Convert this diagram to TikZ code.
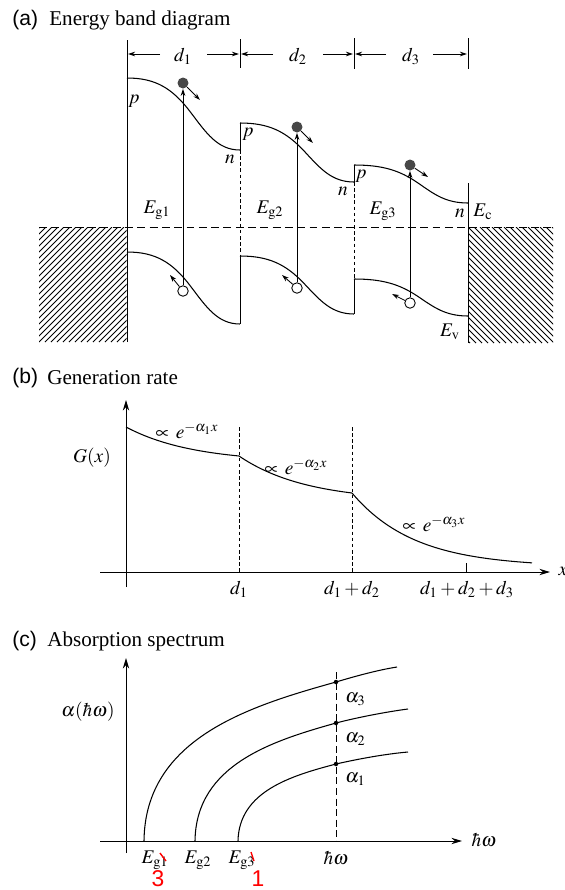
\documentclass[tikz,border=0pt]{standalone}
\usepackage{mathptmx}
\usepackage{fontspec}
\setmainfont{Liberation Serif}
\newfontfamily\panelfont{Liberation Sans}
\usetikzlibrary{arrows.meta}
\begin{document}
\begin{tikzpicture}[x=0.02cm,y=-0.02cm,
  lbl/.style={inner sep=0pt, font=\fontsize{11}{13}\selectfont},
  ttl/.style={inner sep=0pt, anchor=west, font=\fontsize{12}{14}\selectfont},
  plab/.style={inner sep=0pt, anchor=west, font=\panelfont\fontsize{12}{14}\selectfont},
  band/.style={line width=0.6pt},
  edge/.style={line width=0.5pt},
  thinline/.style={line width=0.5pt},
  smalltip/.style={line width=0.5pt, -{Stealth[length=4pt,width=2.6pt]}},
  axisarrow/.style={line width=0.5pt, -{Stealth[length=6pt,width=3.6pt]}},
  fermi/.style={line width=0.5pt, dash pattern=on 4.5pt off 2.5pt},
  finedash/.style={line width=0.5pt, dash pattern=on 2pt off 1.5pt},
  elec/.style={circle, fill=black!72, inner sep=0pt, minimum size=0.22cm},
  hole/.style={circle, draw, fill=white, line width=0.5pt, inner sep=0pt, minimum size=0.21cm},
  cdot/.style={circle, fill=black, inner sep=0pt, minimum size=0.09cm},
  redmark/.style={inner sep=0pt, text=red, font=\panelfont\fontsize{13}{15}\selectfont}
]
\useasboundingbox (0,0) rectangle (565,890);

% ---------------- (a) Energy band diagram ----------------
\node[plab] (ta) at (12,20) {(a)};
\node[ttl] (tta) at (49,20) {Energy band diagram};

% hatched contacts
\begin{scope}
  \clip (39,227) rectangle (126.5,342);
  \foreach \i in {-126,-120,...,96} \draw[line width=0.5pt] ({39+\i},342) -- ++(115,-115);
\end{scope}
\begin{scope}
  \clip (468.5,227) rectangle (553,343);
  \foreach \i in {-126,-120,...,96} \draw[line width=0.5pt] ({468+\i},227) -- ++(116,116);
\end{scope}
\draw[fermi] (39,227) -- (553,227);

% band edges
\foreach \xa/\ya/\xb/\yb in {127/78/240/150, 240/123/354/182, 354/165/468/203,
                              127/252/240/324, 240/256/354/314, 354/279/468/316}{
  \pgfmathsetmacro\W{\xb-\xa}
  \pgfmathsetmacro\H{\yb-\ya}
  \draw[band] (\xa,\ya) .. controls ({\xa+0.25*\W},\ya) and ({\xa+0.40*\W},{\ya+0.14*\H})
     .. ({\xa+0.56*\W},{\ya+0.47*\H}) .. controls ({\xa+0.70*\W},{\ya+0.76*\H}) and ({\xa+0.80*\W},\yb) .. (\xb,\yb);
}

% boundaries
\draw[edge] (127,40) -- (127,342);
\draw[edge] (240,123) -- (240,150);
\draw[finedash] (240,150) -- (240,256);
\draw[edge] (240,256) -- (240,324);
\draw[edge] (354,165) -- (354,182);
\draw[finedash] (354,182) -- (354,279);
\draw[edge] (354,279) -- (354,314);
\draw[edge] (468,183) -- (468,343);

% dimension ticks and arrows
\draw[thinline] (240,39) -- (240,68);
\draw[thinline] (354,38) -- (354,69);
\draw[thinline] (468,38) -- (468,69);
\node[lbl] (d1) at (183,56) {$d_1$};
\node[lbl] (d2) at (298,56) {$d_2$};
\node[lbl] (d3) at (411,56) {$d_3$};
\draw[smalltip] (160,54) -- (128,54);
\draw[smalltip] (207,54) -- (239,54);
\draw[smalltip] (273,54) -- (241,54);
\draw[smalltip] (323,54) -- (353,54);
\draw[smalltip] (386,54) -- (355,54);
\draw[smalltip] (433,54) -- (467,54);

% electrons, holes, transitions
\node[elec] (e1) at (183,83) {};
\node[elec] (e2) at (297,127) {};
\node[elec] (e3) at (410,165) {};
\node[hole] (h1) at (183,291) {};
\node[hole] (h2) at (297,288) {};
\node[hole] (h3) at (410,303) {};
\draw[smalltip] (h1.north) -- (e1.south);
\draw[smalltip] (h2.north) -- (e2.south);
\draw[smalltip] (h3.north) -- (e3.south);
\coordinate (e1a) at (200,100);
\coordinate (e2a) at (313,143);
\coordinate (e3a) at (428,177);
\coordinate (h1a) at (170,275);
\coordinate (h2a) at (282,275);
\coordinate (h3a) at (392,294);
\draw[smalltip] (e1) -- (e1a);
\draw[smalltip] (e2) -- (e2a);
\draw[smalltip] (e3) -- (e3a);
\draw[smalltip] (h1) -- (h1a);
\draw[smalltip] (h2) -- (h2a);
\draw[smalltip] (h3) -- (h3a);

% labels
\node[lbl] (p1) at (134,101) {$p$};
\node[lbl] (n1) at (230,159) {$n$};
\node[lbl] (p2) at (248,134) {$p$};
\node[lbl] (n2) at (343,191) {$n$};
\node[lbl] (p3) at (361,176) {$p$};
\node[lbl] (n3) at (460,213) {$n$};
\node[lbl] (ec) at (483,212) {$E_{\mathrm{c}}$};
\node[lbl] (ev) at (450,332) {$E_{\mathrm{v}}$};
\node[lbl] (g1) at (157,210) {$E_{\mathrm{g}1}$};
\node[lbl] (g2) at (270,210) {$E_{\mathrm{g}2}$};
\node[lbl] (g3) at (383,211) {$E_{\mathrm{g}3}$};

% ---------------- (b) Generation rate ----------------
\node[plab] (tb) at (12,378) {(b)};
\node[ttl] (ttb) at (47,378) {Generation rate};
\draw[axisarrow] (126,587) -- (126,400);
\draw[axisarrow] (100,572) -- (550,572);
\node[lbl] (xl) at (563,571) {$x$};
\draw[finedash] (239,427) -- (239,572);
\draw[finedash] (352,427) -- (352,572);
\draw[thinline] (466,563) -- (466,572);
\draw[band] plot[domain=126:239, samples=40] (\x, {572-(109.5+35.5*exp(-0.015*(\x-126)))});
\draw[band] plot[domain=239:352, samples=40] (\x, {572-(70.7+45.3*exp(-0.015*(\x-239)))});
\draw[band] plot[domain=352:532, samples=60] (\x, {572-(5+74*exp(-0.016*(\x-352)))});
\node[lbl] (gx) at (92,458) {$G(x)$};
\node[lbl] (pa1) at (187,431) {$\propto\, e^{-\alpha_1 x}$};
\node[lbl] (pa2) at (296,467) {$\propto\, e^{-\alpha_2 x}$};
\node[lbl] (pa3) at (434,524) {$\propto\, e^{-\alpha_3 x}$};
\node[lbl] (xd1) at (239,589) {$d_1$};
\node[lbl] (xd2) at (352,589) {$d_1+d_2$};
\node[lbl] (xd3) at (467,589) {$d_1+d_2+d_3$};

% ---------------- (c) Absorption spectrum ----------------
\node[plab] (tc) at (12,641) {(c)};
\node[ttl] (ttc) at (47,641) {Absorption spectrum};
\draw[axisarrow] (126,853) -- (126,658);
\draw[axisarrow] (100,841) -- (462,841);
\node[lbl] (hwl) at (484,840) {$\hbar\omega$};
\draw[line width=0.5pt, dash pattern=on 4pt off 2pt] (336,672) -- (336,841);
\draw[band] (144,841) .. controls (145,738) and (250,706) .. (336,682)
                      .. controls (356,676) and (378,670) .. (397,667);
\draw[band] (195,841) .. controls (196,764.5) and (272.8,740.8) .. (336,723)
                      .. controls (355,718) and (385,712) .. (408,709);
\draw[band] (238,841) .. controls (239,791) and (292,775.6) .. (336,764)
                      .. controls (358,759) and (385,754) .. (408,752);
\node[cdot] (a3) at (336,682) {};
\node[cdot] (a2) at (336,723) {};
\node[cdot] (a1) at (336,764) {};
\node[lbl, anchor=west] (la3) at (345,699) {$\alpha_3$};
\node[lbl, anchor=west] (la2) at (345,739) {$\alpha_2$};
\node[lbl, anchor=west] (la1) at (345,779) {$\alpha_1$};
\node[lbl] (ahw) at (88,712) {$\alpha(\hbar\omega)$};
\node[lbl] (xg1) at (155,860) {$E_{\mathrm{g}1}$};
\node[lbl] (xg2) at (198,860) {$E_{\mathrm{g}2}$};
\node[lbl] (xg3) at (242,860) {$E_{\mathrm{g}3}$};
\node[lbl] (xhw) at (336,858) {$\hbar\omega$};

% red handwritten marks
\node[redmark] (r3) at (158,879) {3};
\node[redmark] (r1) at (258,879) {1};
\draw[red, line width=0.8pt] (160,853) -- (166,861);
\draw[red, line width=0.8pt] (251,852) -- (254,861);
\end{tikzpicture}
\end{document}
